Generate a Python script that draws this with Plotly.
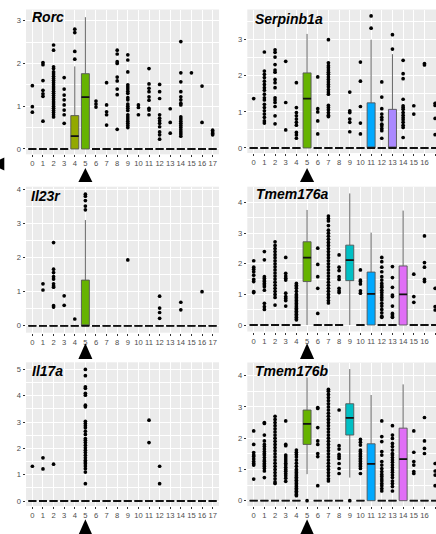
import plotly.graph_objects as go

W, H = 436, 534
clusters = list(range(18))
tick_labels = [str(c) for c in clusters]

# ---------------- data ----------------
# Rorc
rorc_q1  = [0, 0, 0, 0, 0, 0, 0, 0, 0, 0, 0, 0, 0, 0, 0, 0, 0, 0]
rorc_med = [0, 0, 0, 0, 0.30, 1.21, 0, 0, 0, 0, 0, 0, 0, 0, 0, 0, 0, 0]
rorc_q3  = [0, 0, 0, 0, 0.78, 1.76, 0, 0, 0, 0, 0, 0, 0, 0, 0, 0, 0, 0]
rorc_lo  = [0, 0, 0, 0, 0, 0, 0, 0, 0, 0, 0, 0, 0, 0, 0, 0, 0, 0]
rorc_hi  = [0, 0, 0, 0, 1.93, 3.08, 0, 0, 0, 0, 0, 0, 0, 0, 0, 0, 0, 0]
rorc_out = [
    [1.48, 0.99, 0.86],
    [2.02, 1.97, 1.6, 1.37, 1.29, 1.23, 0.65],
    [2.43, 2.31, 1.92, 1.88, 1.8, 1.75, 1.7, 1.65, 1.6, 1.55, 1.5, 1.45, 1.4, 1.35, 1.3, 1.25, 1.2, 1.15, 1.1, 1.05, 1.0, 0.95, 0.9, 0.85, 0.8, 0.75],
    [1.67, 1.4, 1.26, 1.15, 1.03, 0.91, 0.8, 0.6],
    [2.8, 2.72, 2.28, 2.1],
    [],
    [1.12, 1.05, 0.98],
    [1.55, 1.03, 0.87, 0.8, 0.56],
    [2.31, 2.22, 2.04, 2.0, 1.68, 1.59, 1.4, 1.27, 0.46],
    [2.2, 2.08, 1.8, 1.5, 1.45, 1.4, 1.35, 1.3, 1.2, 1.15, 1.05, 1.0, 0.95, 0.9, 0.8, 0.75, 0.7, 0.65, 0.6, 0.55, 0.5],
    [1.03, 0.97, 0.8],
    [1.88, 1.52, 1.42, 1.34, 1.22, 1.14, 0.95, 0.91, 0.8],
    [1.51, 1.34, 1.18, 0.8, 0.72, 0.66, 0.6, 0.52, 0.4, 0.33, 0.23],
    [0.94, 0.62, 0.37],
    [2.51, 1.78, 1.57, 1.34, 1.22, 1.15, 1.07, 1.03, 0.75, 0.7, 0.65, 0.6, 0.55, 0.5, 0.45, 0.4, 0.35, 0.3],
    [1.78],
    [1.47, 0.62],
    [0.44, 0.4, 0.36, 0.33],
]
rorc_fill = {4: "#93A900", 5: "#66B300"}

# Serpinb1a
serp_q1  = [0, 0, 0, 0, 0, 0, 0, 0, 0, 0, 0, 0, 0, 0, 0, 0, 0, 0]
serp_med = [0, 0, 0, 0, 0, 1.37, 0, 0, 0, 0, 0, 0, 0, 0, 0, 0, 0, 0]
serp_q3  = [0, 0, 0, 0, 0, 2.08, 0, 0, 0, 0, 0, 1.25, 0, 1.07, 0, 0, 0, 0]
serp_lo  = [0, 0, 0, 0, 0, 0, 0, 0, 0, 0, 0, 0, 0, 0, 0, 0, 0, 0]
serp_hi  = [0, 0, 0, 0, 0, 3.16, 0, 0, 0, 0, 0, 3.0, 0, 2.6, 0, 0, 0, 0]
serp_out = [
    [1.37],
    [2.66, 2.13, 2.04, 1.95, 1.85, 1.76, 1.67, 1.6, 1.49, 1.39, 1.33, 1.21, 1.12, 1.03, 0.94, 0.85, 0.75, 0.69],
    [2.72, 2.65, 2.52, 2.31, 2.16, 2.1, 1.9, 1.81, 1.67, 1.39, 1.33, 1.26, 1.15, 0.89, 0.67],
    [2.4, 1.26, 0.5],
    [1.81, 1.12, 0.98, 0.89, 0.8, 0.71, 0.63, 0.43, 0.36, 0.27],
    [],
    [1.97, 1.09, 1.0, 0.75, 0.39],
    [3.0, 2.36, 2.28, 2.22, 2.16, 2.1, 2.04, 1.97, 1.9, 1.83, 1.76, 1.7, 1.62, 1.55, 1.49, 1.18, 1.12, 1.06, 0.98, 0.91, 0.87],
    [],
    [1.55, 1.03, 0.98, 0.8, 0.71, 0.45],
    [2.38, 1.85, 1.15, 0.69, 0.39],
    [3.66, 3.32],
    [1.83, 1.41, 1.09, 0.94, 0.85, 0.78, 0.66, 0.61, 0.54, 0.48, 0.27],
    [3.14, 2.74],
    [2.43, 2.06, 1.92, 1.35, 1.17, 1.12, 1.07, 0.98, 0.91, 0.84, 0.78, 0.71, 0.63, 0.57, 0.29],
    [1.17, 0.94],
    [2.34, 2.3],
    [1.24, 1.18, 0.82, 0.37],
]
serp_fill = {5: "#66B300", 11: "#00A9FF", 13: "#AA88FF"}

# Il23r
il23_q1  = [0, 0, 0, 0, 0, 0, 0, 0, 0, 0, 0, 0, 0, 0, 0, 0, 0, 0]
il23_med = [0, 0, 0, 0, 0, 0, 0, 0, 0, 0, 0, 0, 0, 0, 0, 0, 0, 0]
il23_q3  = [0, 0, 0, 0, 0, 1.34, 0, 0, 0, 0, 0, 0, 0, 0, 0, 0, 0, 0]
il23_lo  = [0, 0, 0, 0, 0, 0, 0, 0, 0, 0, 0, 0, 0, 0, 0, 0, 0, 0]
il23_hi  = [0, 0, 0, 0, 0, 3.1, 0, 0, 0, 0, 0, 0, 0, 0, 0, 0, 0, 0]
il23_out = [
    [],
    [1.23, 1.05],
    [2.44, 1.66, 1.56, 1.44, 1.37, 1.23, 1.17, 1.13, 0.59, 0.55],
    [0.88, 0.6],
    [0.2],
    [3.86, 3.8, 3.67, 3.51, 3.4],
    [], [], [],
    [1.93],
    [], [],
    [0.87, 0.52, 0.39, 0.22],
    [],
    [0.69, 0.47],
    [],
    [1.0],
    [],
]
il23_fill = {5: "#66B300"}

# Tmem176a
t176a_q1  = [0, 0, 0, 0, 0, 1.42, 0, 0, 0, 1.45, 0, 0, 0, 0, 0, 0, 0, 0]
t176a_med = [0, 0, 0, 0, 0, 2.2, 0, 0, 0, 2.12, 0, 1.02, 0, 0, 1.0, 0, 0, 0]
t176a_q3  = [0, 0, 0, 0, 0, 2.72, 0, 0, 0, 2.61, 0, 1.73, 0, 0, 1.93, 0, 0, 0]
t176a_lo  = [0, 0, 0, 0, 0, 0, 0, 0, 0, 0, 0, 0, 0, 0, 0, 0, 0, 0]
t176a_hi  = [0, 0, 0, 0, 0, 3.76, 0, 0, 0, 4.3, 0, 3.02, 0, 0, 3.74, 0, 0, 0]
t176a_out = [
    [2.1, 1.89, 1.82, 1.74, 1.63, 1.49, 1.42, 1.09, 1.06],
    [2.4, 2.13, 1.58, 1.53, 1.47, 1.42, 1.36, 1.31, 1.25, 1.14, 0.71, 0.6, 0.51],
    [2.72, 2.6, 2.5, 2.4, 2.3, 2.2, 2.1, 2.0, 1.9, 1.8, 1.7, 1.6, 1.5, 1.4, 1.3, 1.2, 1.1, 1.0, 0.9, 0.65],
    [2.21, 1.69, 1.6, 1.53, 1.47, 1.04, 0.93, 0.87, 0.8, 0.62],
    [1.36, 1.3, 1.25, 1.2, 1.1, 1.0, 0.95, 0.9, 0.85, 0.8, 0.75, 0.7, 0.65, 0.6, 0.55, 0.5, 0.45, 0.4, 0.35, 0.3, 0.25, 0.2, 0.17],
    [],
    [2.51, 1.98, 1.58, 1.2, 0.38],
    [3.56, 3.48, 3.4, 3.25, 3.1, 3.0, 2.9, 2.8, 2.7, 2.6, 2.5, 2.4, 2.3, 2.2, 2.1, 2.0, 1.9, 1.8, 1.7, 1.6, 1.5, 1.4, 1.3, 1.2, 1.1, 1.0, 0.9, 0.8, 0.72],
    [2.29, 1.89, 1.78, 1.58, 1.49, 1.2, 1.12, 1.06],
    [],
    [1.8, 1.47, 1.42, 1.34, 1.12, 1.04],
    [],
    [2.21, 2.07, 1.89, 1.74, 1.58, 1.47, 1.36, 1.28, 1.23, 1.14, 1.06, 0.98, 0.9, 0.82, 0.71, 0.62, 0.51, 0.4, 0.29, 0.25],
    [1.91, 1.55, 1.23, 0.98, 0.93, 0.62, 0.38, 0.33, 0.27, 0.25],
    [],
    [1.66, 0.93, 0.74],
    [2.91, 2.04, 1.89, 1.49, 1.42],
    [1.2, 0.6, 0.49],
]
t176a_fill = {5: "#66B300", 9: "#00BFC4", 11: "#00A9FF", 14: "#E06EF6"}

# Il17a
il17_q1  = [0, 0, 0, 0, 0, 0, 0, 0, 0, 0, 0, 0, 0, 0, 0, 0, 0, 0]
il17_med = [0, 0, 0, 0, 0, 0, 0, 0, 0, 0, 0, 0, 0, 0, 0, 0, 0, 0]
il17_q3  = [0, 0, 0, 0, 0, 0, 0, 0, 0, 0, 0, 0, 0, 0, 0, 0, 0, 0]
il17_lo  = [0, 0, 0, 0, 0, 0, 0, 0, 0, 0, 0, 0, 0, 0, 0, 0, 0, 0]
il17_hi  = [0, 0, 0, 0, 0, 0, 0, 0, 0, 0, 0, 0, 0, 0, 0, 0, 0, 0]
il17_out = [
    [1.32],
    [1.64, 1.22],
    [1.4],
    [], [],
    [5.0, 4.76, 4.34, 4.28, 4.09, 4.02, 3.64, 3.58, 3.03, 2.94, 2.86, 2.78, 2.65, 2.53, 2.37, 2.31, 2.22, 2.12, 2.02, 1.93, 1.84, 1.74, 1.64, 1.55, 1.48, 1.42, 1.33, 1.23, 1.1, 0.66],
    [], [], [], [], [],
    [3.07, 2.22],
    [1.32, 0.66],
    [], [], [], [], [],
]
il17_fill = {}

# Tmem176b
t176b_q1  = [0, 0, 0, 0, 0, 1.8, 0, 0, 0, 2.1, 0, 0, 0, 0, 0, 0, 0, 0]
t176b_med = [0, 0, 0, 0, 0, 2.46, 0, 0, 0, 2.65, 0, 1.18, 0, 0, 1.33, 0, 0, 0]
t176b_q3  = [0, 0, 0, 0, 0, 2.9, 0, 0, 0, 3.1, 0, 1.82, 0, 0, 2.32, 0, 0, 0]
t176b_lo  = [0, 0, 0, 0, 0, 0.85, 0, 0, 0, 0.74, 0, 0, 0, 0, 0, 0, 0, 0]
t176b_hi  = [0, 0, 0, 0, 0, 3.94, 0, 0, 0, 4.21, 0, 3.38, 0, 0, 3.72, 0, 0, 0]
t176b_out = [
    [2.23, 1.8, 1.54, 1.46, 1.41, 1.33, 1.25, 1.19, 1.14, 0.69],
    [2.5, 2.47, 2.1, 1.91, 1.8, 1.73, 1.65, 1.57, 1.51, 1.46, 1.38, 1.3, 1.25, 1.19, 1.14, 1.09, 1.03, 0.95, 0.74],
    [2.7, 2.6, 2.5, 2.4, 2.3, 2.2, 2.1, 2.0, 1.9, 1.8, 1.7, 1.6, 1.5, 1.4, 1.3, 1.2, 1.1, 1.0, 0.9, 0.8, 0.7, 0.6, 0.55],
    [2.55, 1.8, 1.76, 1.46, 1.4, 1.33, 1.27, 1.2, 1.14, 1.07, 1.0, 0.94, 0.87, 0.8, 0.72, 0.62],
    [1.62, 1.55, 1.48, 1.4, 1.3, 1.2, 1.1, 1.0, 0.95, 0.9, 0.85, 0.8, 0.75, 0.7, 0.65, 0.6, 0.55, 0.5, 0.45, 0.4, 0.35, 0.3, 0.25, 0.2, 0.16],
    [0.0],
    [2.98, 2.95, 2.34, 1.91, 1.8, 1.51, 1.41, 0.48],
    [3.56, 3.5, 3.4, 3.3, 3.2, 3.1, 3.0, 2.9, 2.8, 2.7, 2.6, 2.5, 2.4, 2.3, 2.2, 2.1, 2.0, 1.9, 1.8, 1.7, 1.6, 1.5, 1.4, 1.3, 1.2, 1.1, 1.0, 0.9, 0.8, 0.7, 0.63],
    [2.9, 1.76, 1.65, 1.48, 1.41, 1.35, 1.19, 1.03, 0.87],
    [0.0],
    [1.96, 1.87, 1.78, 1.62, 1.57, 1.51, 1.46, 1.41, 1.35, 1.3, 1.25, 1.19, 1.14, 1.09, 1.03, 0.87],
    [],
    [2.55, 2.05, 1.89, 1.57, 1.46, 1.25, 1.14, 1.03, 0.93, 0.84, 0.77, 0.69, 0.63, 0.55, 0.48, 0.39, 0.31],
    [2.4, 2.1, 1.99, 1.83, 1.73, 1.62, 1.51, 1.46, 1.38, 1.3, 1.23, 1.14, 1.06, 0.98, 0.91, 0.82, 0.74, 0.63, 0.55, 0.45, 0.31],
    [],
    [2.23, 1.55, 1.25, 1.14, 0.93, 0.87],
    [2.66, 1.91, 1.67, 1.51],
    [1.19, 0.95, 0.82, 0.48],
]
t176b_fill = {5: "#66B300", 9: "#00BFC4", 11: "#00A9FF", 14: "#E06EF6"}

highlight_cluster = 5

# ---------------- layout geometry (pixels) ----------------
def fx(p):
    return p / W

def fy(p):
    return 1 - p / H

col_x = [(26, 219, [-0.6, 17.6]), (247.3, 436, [-0.6, 17.08])]

panels = [
    dict(gene="Rorc", col=0, top=9.5, bot=154.3, yr=[-0.124, 3.26], yt=[0, 1, 2, 3],
         q1=rorc_q1, med=rorc_med, q3=rorc_q3, lo=rorc_lo, hi=rorc_hi, out=rorc_out, fill=rorc_fill, lab=(30, 17)),
    dict(gene="Serpinb1a", col=1, top=9.5, bot=153, yr=[-0.139, 3.837], yt=[0, 1, 2, 3],
         q1=serp_q1, med=serp_med, q3=serp_q3, lo=serp_lo, hi=serp_hi, out=serp_out, fill=serp_fill, lab=(253, 19.3)),
    dict(gene="Il23r", col=0, top=186.7, bot=332.7, yr=[-0.202, 4.078], yt=[0, 1, 2, 3, 4],
         q1=il23_q1, med=il23_med, q3=il23_q3, lo=il23_lo, hi=il23_hi, out=il23_out, fill=il23_fill, lab=(29.3, 195.7)),
    dict(gene="Tmem176a", col=1, top=186.7, bot=331.5, yr=[-0.212, 4.52], yt=[0, 1, 2, 3, 4],
         q1=t176a_q1, med=t176a_med, q3=t176a_q3, lo=t176a_lo, hi=t176a_hi, out=t176a_out, fill=t176a_fill, lab=(254, 194.3)),
    dict(gene="Il17a", col=0, top=362.3, bot=506, yr=[-0.19, 5.27], yt=[0, 1, 2, 3, 4, 5],
         q1=il17_q1, med=il17_med, q3=il17_q3, lo=il17_lo, hi=il17_hi, out=il17_out, fill=il17_fill, lab=(30, 371)),
    dict(gene="Tmem176b", col=1, top=362.5, bot=506, yr=[-0.17, 4.42], yt=[0, 1, 2, 3, 4],
         q1=t176b_q1, med=t176b_med, q3=t176b_q3, lo=t176b_lo, hi=t176b_hi, out=t176b_out, fill=t176b_fill, lab=(253, 371)),
]

tri_rows = [(168, 182), (343.3, 359), (519.3, 535)]

fig = go.Figure()
BOXW = 0.75
tick_font = dict(family="Liberation Sans, Arial, sans-serif", size=7.6, color="#4D4D4D")
layout = dict(
    width=W, height=H, margin=dict(l=0, r=0, t=0, b=0),
    paper_bgcolor="white", plot_bgcolor="#EBEBEB",
    showlegend=False, boxmode="overlay",
    annotations=[], shapes=[],
)

for i, p in enumerate(panels):
    n = i + 1
    xa = "x" if n == 1 else f"x{n}"
    ya = "y" if n == 1 else f"y{n}"
    x0, x1, xr = col_x[p["col"]]
    layout["xaxis" if n == 1 else f"xaxis{n}"] = dict(
        domain=[fx(x0), min(fx(x1), 1.0)], range=xr, anchor=ya,
        tickmode="array", tickvals=clusters, ticktext=tick_labels, tickangle=0,
        showgrid=True, gridcolor="white", gridwidth=1, zeroline=False,
        ticks="outside", ticklen=2, tickwidth=0.8, tickcolor="#333333",
        tickfont=tick_font, automargin=False, fixedrange=True,
    )
    layout["yaxis" if n == 1 else f"yaxis{n}"] = dict(
        domain=[fy(p["bot"]), fy(p["top"])], range=p["yr"], anchor=xa,
        tickmode="array", tickvals=p["yt"], ticktext=[str(v) for v in p["yt"]],
        showgrid=True, gridcolor="white", gridwidth=1, zeroline=False,
        minor=dict(tickmode="linear", tick0=0.5, dtick=1, showgrid=True, gridcolor="white", gridwidth=0.5, ticks=""),
        ticks="outside", ticklen=2.5, tickwidth=0.8, tickcolor="#333333",
        tickfont=tick_font, automargin=False, fixedrange=True,
    )
    # boxes
    for c in clusters:
        fig.add_trace(go.Box(
            x=[c], q1=[p["q1"][c]], median=[p["med"][c]], q3=[p["q3"][c]],
            lowerfence=[p["lo"][c]], upperfence=[p["hi"][c]],
            width=BOXW, whiskerwidth=0, boxpoints=False,
            fillcolor=p["fill"].get(c, "#7F7F7F"),
            line=dict(color="#555555", width=0.9),
            xaxis=xa, yaxis=ya, hoverinfo="skip",
        ))
    # medians (thicker, black)
    mx, my = [], []
    for c in clusters:
        mx += [c - BOXW / 2, c + BOXW / 2, None]
        my += [p["med"][c], p["med"][c], None]
    fig.add_trace(go.Scatter(x=mx, y=my, mode="lines", line=dict(color="#111111", width=1.8),
                             xaxis=xa, yaxis=ya, hoverinfo="skip"))
    # outliers
    ox, oy = [], []
    for c in clusters:
        for v in p["out"][c]:
            ox.append(c)
            oy.append(v)
    fig.add_trace(go.Scatter(x=ox, y=oy, mode="markers",
                             marker=dict(color="black", size=3.7, line=dict(width=0)),
                             xaxis=xa, yaxis=ya, hoverinfo="skip"))
    # gene label
    lx, ly = p["lab"]
    layout["annotations"].append(dict(
        text=p["gene"], x=fx(lx), y=fy(ly), xref="paper", yref="paper",
        xanchor="left", yanchor="middle", showarrow=False,
        font=dict(family="Liberation Sans, Arial, sans-serif", size=14, color="black",
                  weight="bold", style="italic"),
    ))
    # triangle marker under highlighted cluster
    row = i // 2
    t_top, t_bot = tri_rows[row]
    hw = 0.66
    hc = highlight_cluster
    layout["shapes"].append(dict(
        type="path", xref=xa, yref="paper",
        path=f"M {hc - hw},{fy(t_bot)} L {hc},{fy(t_top)} L {hc + hw},{fy(t_bot)} Z",
        fillcolor="black", line=dict(width=0),
    ))

# partial arrow at left edge
layout["shapes"].append(dict(
    type="path", xref="paper", yref="paper",
    path=f"M {fx(4.3)},{fy(157.5)} L {fx(4.3)},{fy(170.5)} L {fx(-9)},{fy(164)} Z",
    fillcolor="black", line=dict(width=0),
))

fig.update_layout(**layout)
fig.write_html("out.html")
